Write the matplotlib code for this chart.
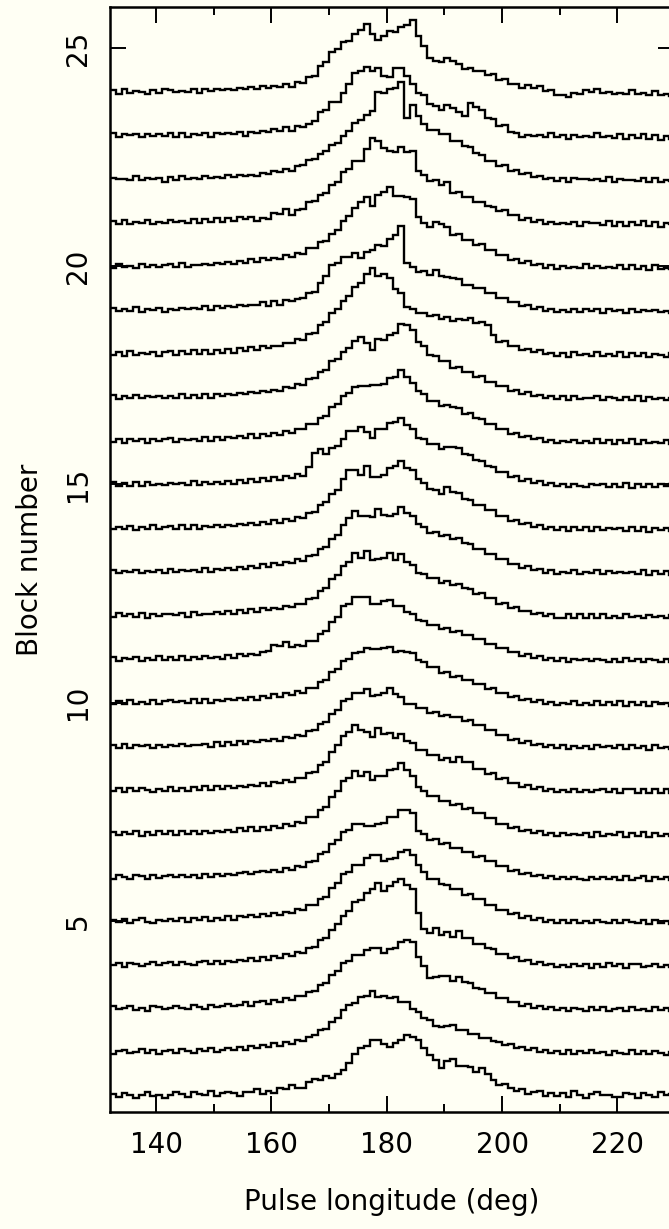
# Stacked single-pulse block profiles vs pulse longitude
import numpy as np
import matplotlib.pyplot as plt

# longitude grid of the profiles (deg), 1-deg bins
lon_start = 132.0
bin_width = 1.0
n_bins = 98

# profile amplitudes per block, in hundredths of the block spacing
# (rows: 132-151, 152-171, 172-186, 187-199, 200-209, 210-229 deg)
block_01 = [3, -4, 6, 0, -5, 2, 7, -2, 1, -6, 0, 8, 4, -3, 7, 3, 1, 9, -1, 5,
            8, 5, -1, 7, 7, 15, 3, 11, 5, 16, 15, 24, 17, 17, 31, 38, 35, 44, 39, 49,
            58, 74, 95, 108, 113, 126, 128, 118, 112, 120, 127, 139, 133, 127, 108,
            92, 82, 62, 78, 84, 68, 68, 65, 54, 63, 49, 36, 25,
            26, 18, 9, 15, 4, 7, 10, -2, 5, -1,
            5, -4, 9, 1, -6, 4, 7, 1, 2, -4, -4, 6, 4, -6, 6, 1, -3, 8, 0, 3]
block_02 = [-4, 2, 5, -3, 0, 6, -2, 3, -5, 1, 5, -2, 7, 1, -3, 6, 2, 8, 0, 4,
            9, 3, 11, 5, 14, 8, 15, 10, 19, 14, 22, 18, 28, 24, 35, 38, 50, 52, 68, 78,
            95, 108, 112, 125, 128, 140, 126, 128, 124, 125, 115, 114, 97, 90, 78,
            72, 60, 57, 58, 62, 50, 50, 40, 40, 31, 32, 24, 23,
            15, 18, 9, 12, 4, 8, 0, 5, -3, 2,
            -5, 3, -6, 1, -2, 4, -3, -1, -7, 2, -2, -6, 3, -4, 1, -5, 2, -3, -7, 0]
block_03 = [5, -2, 0, 6, -4, 1, -6, 4, 2, -3, 0, 6, 1, -3, 7, 3, -1, 8, 2, 5,
            10, 4, 8, 14, 6, 13, 17, 9, 18, 15, 24, 19, 28, 27, 38, 40, 53, 57, 75, 85,
            103, 108, 121, 122, 133, 138, 137, 126, 135, 138, 152, 156, 152, 118, 97,
            68, 72, 73, 74, 62, 72, 60, 57, 45, 44, 35, 34, 23,
            24, 13, 15, 6, 9, 1, 5, -3, 2, -4,
            0, -6, 1, -3, -7, 2, -4, 3, -6, -1, 1, -6, 3, -4, -1, -7, 2, -4, 0, -6]
block_04 = [-2, 4, -5, 3, 1, -3, 2, 6, -1, 3, 5, -1, 6, 2, -2, 5, 8, 0, 7, 2,
            9, 6, 10, 7, 15, 9, 17, 11, 19, 15, 23, 20, 29, 27, 37, 40, 55, 60, 78, 92,
            112, 122, 143, 148, 163, 172, 187, 168, 180, 188, 197, 183, 172, 118, 82,
            72, 84, 68, 74, 63, 77, 60, 60, 47, 47, 37, 35, 25,
            25, 15, 17, 7, 10, 2, 6, -2, 2, -5,
            -1, -6, 1, -3, 0, -7, 2, -5, 3, -4, 1, -7, 0, 2, -6, -3, 1, -5, -1, -6]
block_05 = [3, -3, 5, -4, 2, 6, -2, -5, 3, 0, 4, 0, 6, -3, 7, 1, 8, 0, 6, 3,
            10, 2, 11, 8, 13, 9, 15, 11, 19, 13, 21, 18, 27, 25, 36, 37, 51, 55, 75, 87,
            108, 112, 128, 127, 143, 152, 150, 137, 141, 143, 158, 163, 152, 127, 113,
            97, 95, 85, 83, 72, 73, 59, 61, 49, 49, 37, 37, 25,
            25, 15, 17, 7, 11, 2, 6, -2, 3, -5,
            2, -6, 3, -5, -1, -4, 1, -2, -6, 1, -5, 3, -3, -6, 1, -7, 2, -5, 0, -7]
block_06 = [-3, 4, 0, -5, 4, 2, -5, 5, -2, 3, 6, 0, 5, 1, 4, -2, 8, 1, 7, 3,
            8, 5, 9, 12, 7, 11, 14, 11, 16, 13, 21, 17, 26, 24, 35, 37, 53, 57, 75, 85,
            103, 109, 121, 122, 118, 117, 121, 125, 138, 137, 153, 155, 148, 107, 98,
            85, 87, 77, 79, 67, 68, 57, 58, 47, 48, 37, 36, 25,
            25, 15, 17, 7, 10, 2, 6, -2, 2, -5,
            0, -4, 1, -3, -7, 1, -4, 0, -3, 1, -7, 2, -6, -1, 3, -8, 1, -4, 0, -7]
block_07 = [4, -4, 3, -1, 5, -5, 3, -3, 6, -2, 5, -3, 6, -2, 7, 0, 5, 2, 6, 3,
            8, 4, 12, 5, 14, 7, 16, 9, 18, 13, 21, 18, 27, 25, 37, 39, 55, 61, 83, 97,
            121, 127, 143, 132, 141, 122, 133, 132, 145, 147, 161, 145, 133, 107, 98,
            85, 85, 75, 75, 65, 68, 57, 58, 47, 47, 35, 35, 23,
            23, 13, 15, 6, 9, 1, 5, -3, 2, -6,
            1, -3, 0, -4, 1, -7, 3, -5, 0, -4, 4, -7, 1, -6, 3, -8, 2, -5, -1, -6]
block_08 = [-3, 5, -4, 4, -3, 5, 0, -4, 3, -2, 6, -2, 5, -3, 7, -1, 8, 0, 9, 1,
            9, 5, 10, 7, 12, 9, 17, 10, 18, 15, 23, 19, 28, 27, 39, 42, 58, 65, 88, 102,
            123, 132, 148, 137, 133, 122, 141, 129, 131, 119, 128, 112, 108, 92, 91,
            79, 81, 69, 73, 65, 75, 63, 63, 49, 48, 37, 38, 25,
            27, 15, 17, 7, 11, 2, 6, -2, 2, -5,
            0, -4, 3, -5, -1, -4, 0, 3, -5, 2, -7, 1, 3, -6, 2, -8, 1, -6, 3, -7]
block_09 = [4, -3, 5, -4, 4, 0, 3, -5, 4, -1, 3, 0, 5, 1, 4, 2, 6, -1, 9, 1,
            10, 3, 12, 5, 13, 9, 14, 11, 16, 13, 21, 18, 27, 24, 35, 37, 51, 55, 73, 82,
            103, 109, 123, 122, 131, 115, 118, 122, 133, 119, 113, 97, 98, 87, 88,
            77, 79, 69, 71, 67, 68, 59, 61, 49, 48, 37, 37, 25,
            25, 15, 17, 7, 11, 2, 6, -2, 3, -5,
            2, -6, 1, -3, 1, -7, 2, -2, 0, -5, 2, -7, 3, -5, 0, -8, 2, -5, -1, -6]
block_10 = [-3, 4, -4, 5, -3, 1, -2, 6, -3, 4, 5, 1, 4, 0, 9, -1, 8, 0, 7, 3,
            8, 5, 10, 6, 14, 7, 15, 11, 19, 12, 21, 17, 26, 23, 33, 33, 48, 52, 71, 77,
            95, 99, 113, 115, 125, 122, 123, 125, 128, 115, 118, 117, 113, 97, 93,
            82, 81, 69, 71, 59, 61, 52, 53, 42, 43, 32, 33, 22,
            23, 13, 15, 6, 9, 1, 5, -3, 2, -5,
            0, -4, 3, -5, -1, -5, 4, -6, 2, -5, 3, -7, 1, -6, 2, -8, 1, -3, 0, -7]
block_11 = [4, -4, 3, -1, 4, -5, 3, -2, 6, -3, 5, -3, 6, -2, 5, 1, 6, 2, 5, 1,
            9, 2, 11, 7, 12, 9, 17, 19, 33, 29, 38, 27, 31, 29, 41, 42, 58, 65, 85, 97,
            121, 127, 141, 142, 143, 125, 125, 132, 135, 122, 121, 107, 103, 89, 88,
            77, 78, 69, 71, 62, 65, 55, 55, 45, 45, 35, 35, 25,
            25, 15, 17, 7, 11, 2, 6, -2, 3, -5,
            2, -6, 1, -3, -1, -4, 1, -2, -6, 1, -7, 3, -4, 0, -8, 1, -3, -6, 1, -7]
block_12 = [-3, 5, -2, 2, -3, 6, -5, 4, -1, 3, 4, 0, 5, -3, 7, 0, 4, 2, 7, 3,
            10, 2, 12, 5, 14, 7, 16, 12, 17, 14, 22, 19, 27, 25, 38, 39, 55, 62, 83, 92,
            113, 122, 143, 132, 148, 127, 128, 132, 143, 127, 141, 122, 115, 97, 95,
            85, 85, 75, 78, 69, 73, 62, 61, 49, 51, 39, 39, 27,
            28, 17, 19, 9, 11, 2, 6, -2, 2, -5,
            -5, 3, -6, 2, -7, 3, -5, 2, -6, -2, -5, 3, -4, -1, -5, 0, -3, -2, -5, 0]
block_13 = [4, -3, 1, -1, 3, -2, 2, 0, 4, -3, 6, -1, 3, 1, 4, 0, 8, -1, 7, 3,
            8, 5, 10, 7, 12, 9, 17, 10, 19, 15, 23, 19, 28, 25, 37, 39, 53, 57, 75, 85,
            108, 122, 138, 127, 128, 125, 143, 129, 128, 132, 148, 135, 128, 109, 103,
            89, 91, 82, 83, 75, 78, 65, 63, 52, 53, 41, 41, 29,
            29, 17, 18, 9, 12, 3, 6, -2, 3, -5,
            0, -4, 3, -5, -1, -4, 4, -6, 1, -3, -1, -4, 0, -5, 3, -8, 1, -6, 2, -7]
block_14 = [-3, 3, -1, 4, -5, 3, -2, 6, -3, 2, 5, -2, 6, -3, 7, -1, 4, 2, 6, 3,
            7, 4, 9, 6, 11, 8, 13, 10, 18, 11, 20, 17, 25, 23, 35, 37, 53, 59, 78, 87,
            113, 132, 133, 122, 143, 117, 118, 122, 138, 142, 153, 137, 133, 112, 103,
            89, 88, 77, 93, 82, 81, 67, 65, 52, 53, 42, 41, 27,
            27, 17, 18, 9, 11, 2, 6, -2, 2, -5,
            2, -6, 3, -5, 2, -7, 3, -5, 0, -2, 1, -7, 2, -6, 3, -8, 1, -4, 0, -7]
block_15 = [5, -3, 4, -4, 5, -3, 6, -2, 1, -2, 4, 0, 3, -1, 7, -2, 6, 2, 5, 1,
            9, 2, 11, 4, 13, 6, 15, 8, 17, 10, 19, 15, 23, 19, 41, 72, 81, 69, 83, 87,
            103, 122, 123, 132, 121, 107, 128, 127, 141, 142, 153, 137, 128, 107, 103,
            92, 93, 82, 85, 85, 83, 69, 68, 55, 53, 42, 41, 29,
            29, 17, 19, 9, 12, 3, 7, -1, 3, -4,
            1, -7, 2, -3, -6, 1, -2, 1, -7, 2, -6, 3, -8, 1, -6, 2, -7, 1, -3, 0]
block_16 = [-3, 5, -4, 4, 0, 3, -5, 4, -1, 3, 6, -2, 5, 1, 3, 0, 8, -1, 9, 1,
            9, 6, 10, 7, 15, 6, 16, 12, 17, 14, 23, 19, 28, 27, 38, 39, 53, 57, 78, 85,
            103, 109, 123, 125, 125, 127, 128, 129, 143, 147, 163, 147, 133, 115, 108,
            92, 91, 79, 81, 77, 75, 62, 63, 52, 51, 39, 38, 27,
            27, 16, 18, 9, 12, 3, 6, -2, 2, -5,
            0, -3, 1, -4, -1, -5, 3, -6, 2, -8, 1, -6, 3, -7, 1, -4, -2, -6, 1, -7]
block_17 = [4, -4, 3, -1, 5, -2, 3, 0, 2, -2, 3, -1, 7, -2, 6, -3, 8, -1, 7, 3,
            8, 5, 9, 7, 12, 9, 14, 12, 17, 15, 23, 20, 29, 27, 41, 43, 58, 62, 83, 87,
            103, 112, 128, 137, 123, 107, 133, 132, 143, 147, 168, 165, 153, 127, 118,
            97, 95, 82, 83, 67, 68, 57, 58, 47, 48, 35, 35, 25,
            25, 15, 17, 8, 11, 2, 6, -2, 3, -5,
            2, -6, 3, -5, -1, -3, 2, -6, 1, -2, -7, 1, -6, 3, -8, 1, -4, -1, -6, -3]
block_18 = [-3, 4, -5, 5, -3, 2, 0, 4, -5, 3, 5, -3, 6, -2, 7, -1, 8, 0, 9, 1,
            10, 2, 12, 5, 15, 7, 17, 13, 18, 17, 25, 23, 33, 32, 45, 47, 65, 72, 93, 102,
            121, 132, 153, 162, 183, 197, 178, 182, 173, 147, 138, 107, 103, 92, 93,
            85, 88, 79, 83, 75, 78, 77, 81, 69, 73, 65, 43, 27,
            28, 17, 18, 9, 11, 3, 7, -2, 2, -6,
            1, -7, 3, -4, 0, -5, 4, -6, -2, -5, 3, -7, 2, -6, 1, -9, 0, -3, -7, 1]
block_19 = [5, -3, 2, -2, 6, -5, 3, -1, 4, -4, 3, 0, 5, 2, 4, 1, 9, 0, 8, 5,
            9, 7, 11, 9, 12, 11, 19, 10, 21, 12, 23, 21, 25, 27, 39, 42, 61, 77, 103, 107,
            121, 122, 131, 119, 133, 137, 148, 147, 163, 172, 193, 107, 98, 87, 88,
            79, 91, 77, 75, 72, 71, 57, 58, 49, 50, 39, 38, 27,
            28, 17, 19, 9, 12, 3, 6, -2, 2, -5,
            -1, -4, 3, -6, 1, -2, 2, -7, 1, -3, 0, -8, 2, -5, -1, -3, 0, -5, -2, -7]
block_20 = [-3, 5, -2, 1, -3, 6, -2, 2, -1, 3, 6, -2, 7, -1, 3, 2, 6, 3, 7, 4,
            9, 6, 11, 8, 17, 9, 18, 15, 19, 17, 25, 22, 31, 29, 41, 42, 55, 57, 73, 82,
            103, 115, 133, 147, 158, 137, 163, 169, 181, 162, 161, 159, 153, 112, 98,
            89, 101, 97, 91, 72, 73, 59, 61, 49, 51, 37, 38, 25,
            25, 15, 17, 7, 11, 2, 5, -3, 2, -6,
            1, -3, -1, -4, 5, -5, 0, -3, -2, -5, 2, -7, 3, -6, 1, -8, 2, -7, -3, -6]
block_21 = [4, -4, 5, -3, 1, -2, 6, -3, 2, -1, 5, 1, 4, 0, 8, -1, 9, 1, 10, 2,
            11, 3, 12, 8, 13, 3, 11, 9, 21, 19, 32, 18, 28, 32, 48, 49, 63, 67, 85, 92,
            116, 122, 141, 141, 169, 194, 188, 171, 163, 162, 173, 162, 163, 118, 108,
            95, 97, 87, 93, 68, 71, 59, 58, 47, 47, 37, 36, 26,
            28, 17, 18, 7, 11, 2, 6, -3, 1, -4,
            0, -3, 1, -7, 2, -2, 0, -5, 3, -7, 1, -8, 2, -6, 3, -7, 1, -9, 0, -4]
block_22 = [3, -1, 1, -2, 6, -3, 2, -1, 3, -6, 4, -3, 6, -1, 2, 1, 6, 2, 5, 3,
            8, 5, 10, 6, 9, 7, 14, 11, 19, 15, 23, 19, 29, 33, 43, 45, 58, 65, 78, 82,
            98, 109, 128, 135, 146, 155, 199, 197, 207, 209, 222, 140, 169, 144, 127,
            112, 113, 102, 103, 86, 88, 75, 73, 59, 54, 42, 41, 29,
            31, 19, 21, 11, 13, 5, 7, -1, 3, -5,
            3, -6, 2, -1, 1, -3, -1, -4, 4, -6, 1, -3, -2, -5, 2, -7, 3, -6, -2, -5]
block_23 = [5, -3, 2, 0, 4, -5, 3, -1, 2, -2, 6, -3, 5, -4, 4, 1, 5, -3, 6, 2,
            6, 3, 7, -1, 8, 5, 9, 7, 15, 11, 19, 10, 21, 19, 27, 32, 53, 57, 76, 77,
            98, 117, 143, 147, 156, 147, 155, 135, 133, 155, 155, 137, 118, 97, 93,
            72, 68, 59, 69, 63, 53, 44, 75, 65, 58, 40, 38, 22,
            23, 7, 6, -3, 1, -2, 0, -3, 5, -4,
            0, -8, 1, -3, -1, -4, 5, -5, -2, -6, 3, -9, 1, -7, 2, -8, 0, -10, -1, -8]
block_24 = [3, -5, 6, -2, 2, -1, -6, 4, -3, 5, 4, 0, 2, -1, 7, -3, 6, 2, 5, 3,
            7, 4, 8, 6, 11, 7, 12, 9, 14, 10, 18, 11, 21, 19, 33, 37, 58, 69, 91, 97,
            114, 117, 133, 142, 155, 132, 118, 127, 139, 137, 148, 152, 165, 127, 105,
            77, 71, 67, 78, 71, 63, 52, 55, 47, 48, 39, 41, 27,
            30, 17, 17, 9, 15, 9, 13, 1, 3, -8,
            -7, -13, -2, -5, 3, -1, 7, -3, 0, -5, -2, -6, 3, -5, -3, -7, 1, -8, -5, -9]

profiles = [block_01, block_02, block_03, block_04, block_05, block_06,
            block_07, block_08, block_09, block_10, block_11, block_12,
            block_13, block_14, block_15, block_16, block_17, block_18,
            block_19, block_20, block_21, block_22, block_23, block_24]

x_ticks = [140, 160, 180, 200, 220]
y_ticks = [5, 10, 15, 20, 25]

bg = '#fffff4'
fig = plt.figure(figsize=(6.69, 12.29), dpi=100, facecolor=bg)
ax = fig.add_axes([110 / 669, 117 / 1229, 564 / 669, 1105 / 1229], facecolor=bg)

edges = lon_start + bin_width * np.arange(n_bins + 1)
for k, amp in enumerate(profiles, start=1):
    ax.stairs(k + np.array(amp) / 100.0, edges, baseline=None,
              color='black', linewidth=1.7)

ax.set_xlim(132.0, 229.8)
ax.set_ylim(0.62, 25.94)
ax.set_xticks(x_ticks)
ax.set_xticks(np.arange(150, 230, 20), minor=True)
ax.set_yticks(y_ticks)
ax.set_yticklabels([str(t) for t in y_ticks], rotation=90, va='center')
ax.tick_params(which='both', direction='in', top=True, right=True, width=1.4, labelsize=20)
ax.tick_params(which='major', length=11.5)
ax.tick_params(which='minor', length=5.8)
ax.tick_params(axis='x', pad=14)
ax.tick_params(axis='y', pad=13)
for s in ax.spines.values():
    s.set_linewidth(1.8)

fig.text(392 / 669, 1 - 1202 / 1229, 'Pulse longitude (deg)', ha='center', va='center', fontsize=20)
fig.text(30 / 669, 1 - 560 / 1229, 'Block number', ha='center', va='center', rotation=90, fontsize=20)

fig.savefig('out.png', dpi=100, facecolor=bg)
